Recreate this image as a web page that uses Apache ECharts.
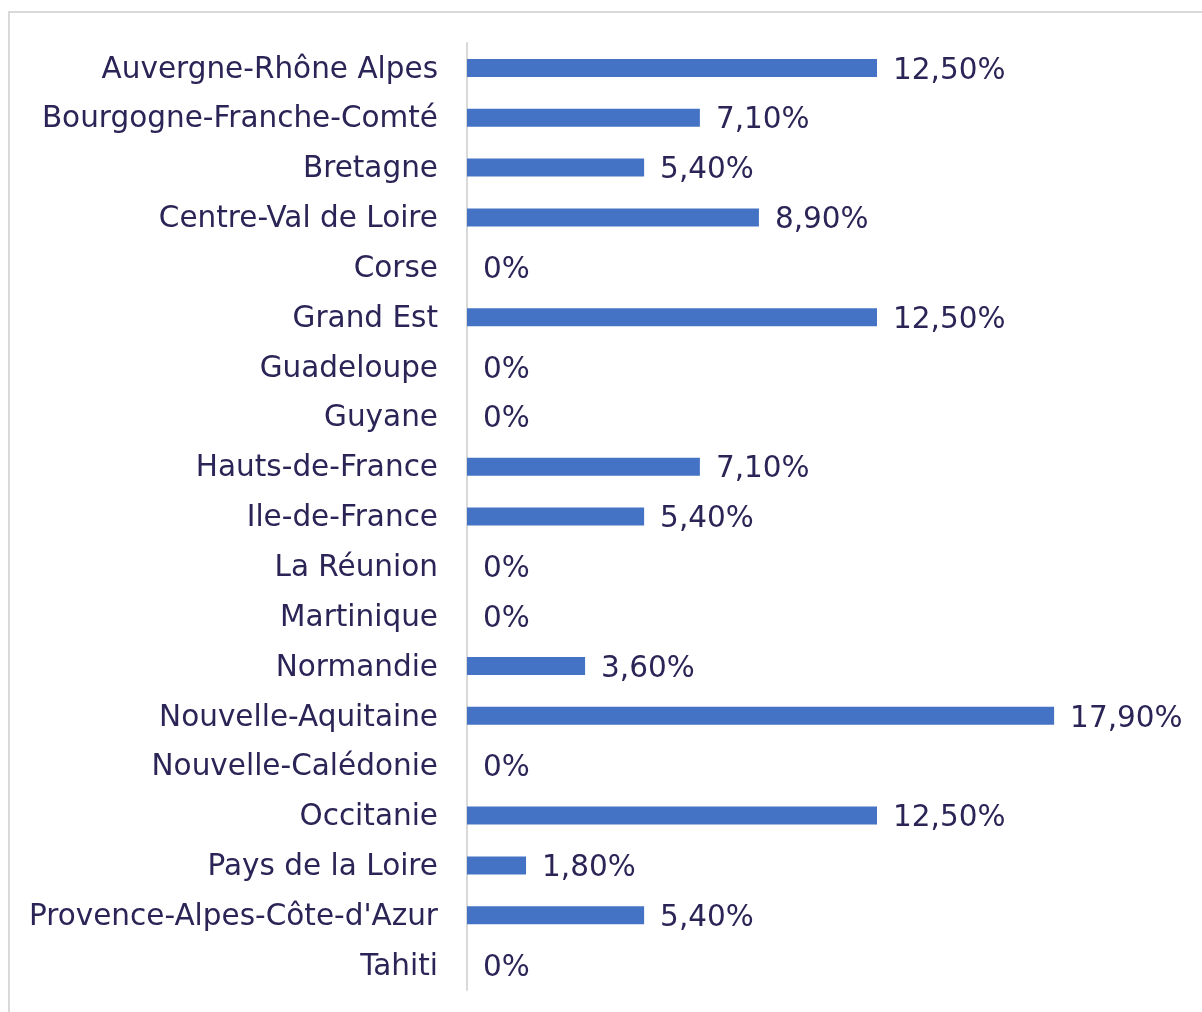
<!DOCTYPE html>
<html>
<head>
<meta charset="utf-8">
<script src="https://cdn.jsdelivr.net/npm/echarts@6/dist/echarts.min.js"></script>
<style>
  html, body { margin: 0; padding: 0; background: #ffffff; }
  #chart { width: 1202px; height: 1012px; }
</style>
</head>
<body>
<div id="chart"></div>
<script>
// Regions, listed top to bottom
const regions = [
  'Auvergne-Rhône Alpes',
  'Bourgogne-Franche-Comté',
  'Bretagne',
  'Centre-Val de Loire',
  'Corse',
  'Grand Est',
  'Guadeloupe',
  'Guyane',
  'Hauts-de-France',
  'Ile-de-France',
  'La Réunion',
  'Martinique',
  'Normandie',
  'Nouvelle-Aquitaine',
  'Nouvelle-Calédonie',
  'Occitanie',
  'Pays de la Loire',
  "Provence-Alpes-Côte-d'Azur",
  'Tahiti'
];

// Share per region, in percent
const shares = [12.5, 7.1, 5.4, 8.9, 0, 12.5, 0, 0, 7.1, 5.4, 0, 0, 3.6, 17.9, 0, 12.5, 1.8, 5.4, 0];

const textColor = '#2a2556';
const fontFamily = 'DejaVu Sans, Verdana, sans-serif';
const fontSize = 29.5;

function formatShare(v) {
  return v === 0 ? '0%' : v.toFixed(2).replace('.', ',') + '%';
}

const chart = echarts.init(document.getElementById('chart'), null, { renderer: 'canvas' });
chart.setOption({
  backgroundColor: '#ffffff',
  animation: false,
  graphic: [{
    type: 'rect',
    shape: { x: 9, y: 12, width: 1400, height: 1200 },
    style: { fill: 'none', stroke: '#d9d9d9', lineWidth: 2 },
    silent: true
  }],
  grid: { left: 467, top: 43, width: 656, height: 947, containLabel: false },
  xAxis: {
    type: 'value',
    min: 0,
    max: 20,
    show: false
  },
  yAxis: {
    type: 'category',
    data: regions,
    inverse: true,
    axisLine: { show: true, lineStyle: { color: '#d9d9d9', width: 2 } },
    axisTick: { show: false },
    splitLine: { show: false },
    axisLabel: {
      margin: 29,
      color: textColor,
      fontFamily: fontFamily,
      fontSize: fontSize,
      formatter: name => '{r|' + name + '}',
      rich: {
        r: {
          color: textColor,
          fontFamily: fontFamily,
          fontSize: fontSize,
          padding: [4, 0, 0, 0]
        }
      }
    }
  },
  series: [{
    type: 'bar',
    data: shares,
    barWidth: 18,
    itemStyle: { color: '#4472c4' },
    label: {
      show: true,
      position: 'right',
      distance: 16,
      offset: [0, 3],
      color: textColor,
      fontFamily: fontFamily,
      fontSize: fontSize,
      formatter: p => formatShare(p.value)
    }
  }]
});
</script>
</body>
</html>
